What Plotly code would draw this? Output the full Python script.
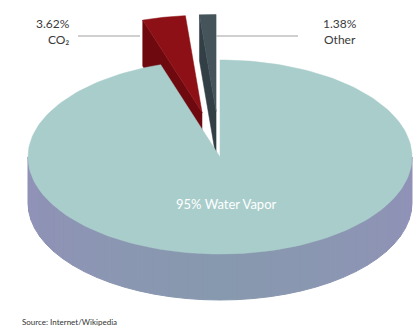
import numpy as np
import plotly.graph_objects as go

# ---- data ----
labels = ["Water Vapor", "CO₂", "Other"]
values = [95.0, 3.62, 1.38]
label_text = ["95% Water Vapor", "3.62%<br>CO₂", "1.38%<br>Other"]
source_text = "Source: Internet/Wikipedia"

# ---- style / geometry ----
W, H = 417, 334
CX, CY, RX, RY, DEPTH = 220, 157, 192, 97, 46
PULL = [0.0, 0.47, 0.47]
TOP = ["#a9cdcb", "#8c1015", "#45545a"]
SIDE = ["#8b95b0", "#6e0a0f", "#323f45"]


def pt(theta, r=1.0, off=(0.0, 0.0), dz=0.0):
    t = np.radians(theta)
    return (CX + off[0] + r * RX * np.sin(t),
            CY + off[1] - r * RY * np.cos(t) + dz)


def arc(a0, a1, off=(0.0, 0.0), dz=0.0, n=80):
    th = np.linspace(a0, a1, n)
    xs, ys = pt(th, 1.0, off, dz)
    return list(xs), list(ys)


def poly(fig, xs, ys, color, lw=0.5):
    fig.add_trace(go.Scatter(x=xs + [xs[0]], y=ys + [ys[0]], mode="lines",
                             fill="toself", fillcolor=color,
                             line=dict(color=color, width=lw),
                             hoverinfo="skip", showlegend=False))


def mix(c1, c2, f):
    a = [int(c1[i:i + 2], 16) for i in (1, 3, 5)]
    b = [int(c2[i:i + 2], 16) for i in (1, 3, 5)]
    return "#" + "".join(f"{int(round(a[k] + (b[k] - a[k]) * f)):02x}" for k in range(3))


fig = go.Figure()

total = sum(values)
bounds = np.concatenate([[0], np.cumsum(values) / total * 360.0])

# exploded slices (drawn first, they sit at the back)
for i in [2, 1]:
    a0, a1 = bounds[i], bounds[i + 1]
    mid = (a0 + a1) / 2
    t = np.radians(mid)
    off = (PULL[i] * RX * np.sin(t), -PULL[i] * RY * np.cos(t))
    ax, ay = CX + off[0], CY + off[1]
    rx0, ry0 = pt(a0, 1.0, off)
    # visible radial face at start edge
    poly(fig, [ax, rx0, rx0, ax], [ay, ry0, ry0 + DEPTH, ay + DEPTH], SIDE[i])
    # top face
    xs, ys = arc(a0, a1, off)
    poly(fig, [ax] + xs, [ay] + ys, TOP[i])

# water slice: side face (front half), shaded in thin strips
N = 36
edges = np.linspace(90, 270, N + 1)
for k in range(N):
    f = abs((k + 0.5) / N - 0.5) * 2  # 0 at front, 1 at sides
    c = mix("#8799ae", "#9191b8", f)
    xt, yt = arc(edges[k], edges[k + 1], n=6)
    xb, yb = arc(edges[k + 1], edges[k], dz=DEPTH, n=6)
    poly(fig, xt + xb, yt + yb, c, lw=1)

# water top face
xs, ys = arc(bounds[0], bounds[1], n=200)
poly(fig, [CX] + xs, [CY] + ys, TOP[0])

# leader lines
line_col = "#a0a0a0"
fig.add_shape(type="line", x0=78, x1=140, y0=36, y1=36, line=dict(color=line_col, width=1))
fig.add_shape(type="line", x0=216, x1=298, y0=36, y1=36, line=dict(color=line_col, width=1))

font = dict(family="Lato, Open Sans, sans-serif", size=12, color="#3a3a3a")
fig.add_annotation(x=72, y=31, text=label_text[1], showarrow=False, xanchor="right",
                   yanchor="middle", align="right", font=font)
fig.add_annotation(x=340, y=31, text=label_text[2], showarrow=False, xanchor="center",
                   yanchor="middle", align="center", font=font)
fig.add_annotation(x=226, y=204, text=label_text[0], showarrow=False, xanchor="center",
                   yanchor="middle", font=dict(family="Lato, sans-serif", size=13, color="#ffffff"))
fig.add_annotation(x=20, y=322, text=source_text, showarrow=False, xanchor="left",
                   yanchor="middle", font=dict(family="Lato, sans-serif", size=8, color="#333333"))

fig.update_layout(width=W, height=H, margin=dict(l=0, r=0, t=0, b=0),
                  paper_bgcolor="white", plot_bgcolor="white",
                  xaxis=dict(range=[0, W], visible=False, fixedrange=True),
                  yaxis=dict(range=[H, 0], visible=False, fixedrange=True))

fig.write_html("out.html")
